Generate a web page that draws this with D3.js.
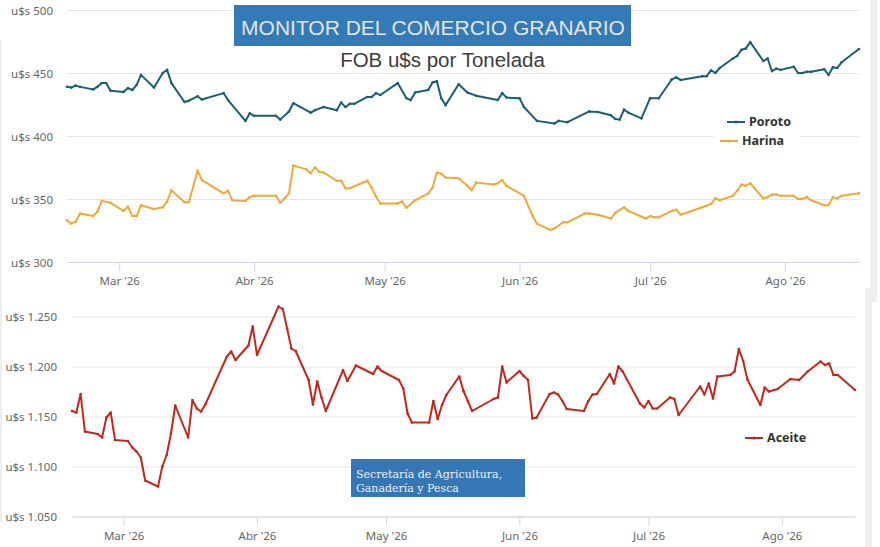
<!DOCTYPE html>
<html lang="es">
<head>
<meta charset="UTF-8">
<title>Monitor del Comercio Granario</title>
<script src="https://d3js.org/d3.v7.min.js"></script>
<style>
body { margin: 0; background: #fff; }
svg { display: block; }
.axis text { font-family: "Noto Sans", sans-serif; font-size: 11.5px; fill: #666; }
.grid line { stroke: #e6e6e6; }
.legend text { font-family: "Noto Sans", sans-serif; font-size: 12.5px; font-weight: 700; fill: #333; }
</style>
</head>
<body>
<svg id="chart" width="880" height="547"></svg>
<script>
const year = "2026"
const monthNames = ["Ene","Feb","Mar","Abr","May","Jun","Jul","Ago","Sep","Oct","Nov","Dic"]
const dateRange = ["02-17", "08-18"]

const topTicks = [300, 350, 400, 450, 500]
const bottomTicks = [1050, 1100, 1150, 1200, 1250]

const poroto = [
  ["02-17",439],["02-18",438.5],["02-19",440],["02-20",439],["02-23",437],["02-24",439],["02-25",442],["02-26",442],["02-27",436],
  ["03-02",435],["03-03",438],["03-04",436.5],["03-05",440.5],["03-06",448.5],["03-09",438.5],["03-11",450],["03-12",452.5],["03-13",442],["03-16",427],["03-17",428],["03-19",431.5],["03-20",429],["03-25",434],["03-26",428.5],["03-30",412],["03-31",418],
  ["04-01",416],["04-06",416],["04-07",413],["04-09",419.5],["04-10",426],["04-14",418.5],["04-15",420.5],["04-17",423],["04-20",420.5],["04-21",426.5],["04-22",423],["04-23",425.5],["04-24",425.5],["04-27",431],["04-28",431],["04-29",434],["04-30",432.5],
  ["05-04",442],["05-06",430],["05-07",428.5],["05-08",434.5],["05-11",436.5],["05-12",442.5],["05-13",443.5],["05-14",430],["05-15",424.5],["05-18",441],["05-20",434.5],["05-22",432],["05-27",428.5],["05-28",434],["05-29",430.5],
  ["06-01",430],["06-02",423],["06-05",412],["06-09",410],["06-10",412],["06-12",411],["06-17",419.5],["06-19",419],["06-22",416.5],["06-23",413.5],["06-24",413],["06-25",421],["06-26",418.5],["06-29",414],
  ["07-01",430],["07-03",430],["07-06",445],["07-07",446.5],["07-08",444.5],["07-13",447.5],["07-14",447.5],["07-15",452],["07-16",450],["07-17",454],["07-20",461.5],["07-21",463.5],["07-22",468.5],["07-23",469.5],["07-24",474.5],["07-27",459.5],["07-28",461.5],["07-29",451.5],["07-30",453.5],["07-31",452.5],
  ["08-03",455],["08-04",450],["08-05",450],["08-06",451],["08-07",451],["08-10",453],["08-11",448.5],["08-12",454.5],["08-13",454],["08-14",458.5],["08-18",469]
]

const harina = [
  ["02-17",333],["02-18",330.5],["02-19",332],["02-20",338.5],["02-23",336.5],["02-24",340],["02-25",348.5],["02-27",347],
  ["03-02",340.5],["03-03",344],["03-04",336.5],["03-05",336.5],["03-06",345],["03-09",342],["03-11",343.5],["03-12",348],["03-13",357],["03-16",347.5],["03-17",347.5],["03-19",372.5],["03-20",365],["03-25",354.5],["03-26",356.5],["03-27",349],["03-30",348.5],["03-31",351.5],
  ["04-01",352.5],["04-06",352.5],["04-07",347],["04-08",350.5],["04-09",354.5],["04-10",376.5],["04-13",373.5],["04-14",370.5],["04-15",375],["04-16",371.5],["04-17",371],["04-20",364.5],["04-21",364.5],["04-22",358.5],["04-23",358.5],["04-27",364.5],["04-28",359],["04-29",352],["04-30",346.5],
  ["05-04",346.5],["05-05",348],["05-06",343],["05-08",349],["05-11",354.5],["05-12",359],["05-13",371],["05-14",370],["05-15",367],["05-18",366.5],["05-20",360.5],["05-21",357],["05-22",363],["05-26",361.5],["05-27",362.5],["05-28",365],["05-29",360.5],
  ["06-02",352.5],["06-04",336.5],["06-05",330.5],["06-08",325.5],["06-09",326.5],["06-11",331.5],["06-12",331.5],["06-16",338.5],["06-17",338.5],["06-19",337.5],["06-22",334.5],["06-23",339],["06-25",343.5],["06-26",340.5],["06-30",334.5],
  ["07-01",336.5],["07-02",335.5],["07-03",335.5],["07-06",340.5],["07-07",341.5],["07-08",337.5],["07-13",343.5],["07-15",346],["07-16",350.5],["07-17",349],["07-20",352.5],["07-21",356.5],["07-22",361.5],["07-23",360.5],["07-24",362.5],["07-27",350.5],["07-28",351.5],["07-29",353.5],["07-30",353.5],["07-31",352.5],
  ["08-03",352.5],["08-04",350],["08-05",350],["08-06",351.5],["08-07",349],["08-10",345],["08-11",345],["08-12",351.5],["08-13",350.5],["08-14",352.5],["08-18",354.5]
]

const aceite = [
  ["02-17",1155.5],["02-18",1154],["02-19",1172.5],["02-20",1135],["02-23",1132.5],["02-24",1129],["02-25",1149],["02-26",1154],["02-27",1126.5],
  ["03-02",1125.5],["03-03",1119],["03-04",1115],["03-05",1109],["03-06",1086],["03-09",1080],["03-10",1100],["03-11",1111.5],["03-12",1133],["03-13",1161],["03-16",1129],["03-17",1166.5],["03-18",1158],["03-19",1155],["03-20",1162],["03-25",1210],["03-26",1215],["03-27",1206.5],["03-30",1221],["03-31",1240],
  ["04-01",1211.5],["04-06",1260],["04-07",1257.5],["04-08",1238],["04-09",1218],["04-10",1215.5],["04-13",1186.5],["04-14",1162],["04-15",1185],["04-16",1169],["04-17",1155.5],["04-21",1196.5],["04-22",1185.5],["04-24",1201],["04-28",1192.5],["04-29",1200],["04-30",1195.5],
  ["05-04",1186.5],["05-05",1178],["05-06",1153],["05-07",1144],["05-11",1144],["05-12",1165.5],["05-13",1147.5],["05-14",1161.5],["05-15",1171.5],["05-18",1190],["05-19",1175.5],["05-20",1165.5],["05-21",1155.5],["05-26",1167.5],["05-27",1169],["05-28",1200],["05-29",1184],
  ["06-01",1195.5],["06-02",1190.5],["06-03",1186.5],["06-04",1148],["06-05",1149],["06-08",1172.5],["06-09",1174],["06-10",1172],["06-11",1165.5],["06-12",1157.5],["06-16",1155.5],["06-17",1165.5],["06-18",1172],["06-19",1172.5],["06-22",1192.5],["06-23",1183],["06-24",1200],["06-25",1195],["06-29",1163],["06-30",1159],
  ["07-01",1165.5],["07-02",1158],["07-03",1158],["07-06",1169],["07-07",1167.5],["07-08",1151.5],["07-13",1180],["07-14",1172],["07-15",1183],["07-16",1168],["07-17",1190],["07-20",1191.5],["07-21",1195],["07-22",1217.5],["07-23",1205.5],["07-24",1187],["07-27",1161.5],["07-28",1179],["07-29",1175],["07-31",1177.5],
  ["08-03",1187.5],["08-05",1186.5],["08-07",1195],["08-10",1205],["08-11",1201.5],["08-12",1203],["08-13",1191.5],["08-14",1191.5],["08-18",1176.5]
]

const parse = d3.utcParse("%Y-%m-%d")
const toDate = s => parse(year + "-" + s)
const es = d3.formatLocale({decimal: ",", thousands: ".", grouping: [3], currency: ["u$s ", ""]})
const fmtY = v => "u$s " + es.format(",d")(v)
const fmtX = d => monthNames[d.getUTCMonth()] + " '" + String(d.getUTCFullYear()).slice(2)

const svg = d3.select("#chart")

// page strips around the two pictures
svg.append("rect").attr("x", 0).attr("y", 40).attr("width", 2).attr("height", 482).attr("fill", "#efefef")
svg.append("rect").attr("x", 870).attr("y", 0).attr("width", 7).attr("height", 290).attr("fill", "#efefef")
svg.append("rect").attr("x", 865).attr("y", 288).attr("width", 7).attr("height", 259).attr("fill", "#efefef")
svg.append("rect").attr("x", 865).attr("y", 288).attr("width", 12).attr("height", 14).attr("fill", "#efefef")

function panel(cfg) {
  const g = svg.append("g")
  const x = d3.scaleUtc().domain(dateRange.map(toDate)).range([cfg.left, cfg.right])
  const y = d3.scaleLinear().domain(d3.extent(cfg.ticks)).range([cfg.bottom, cfg.top])

  const gy = g.append("g").attr("class", "axis grid")
    .attr("transform", `translate(${cfg.left},0)`)
    .call(d3.axisLeft(y).tickValues(cfg.ticks).tickFormat(fmtY)
      .tickSize(-(cfg.right - cfg.left)).tickPadding(cfg.pad))
  gy.select(".domain").remove()
  gy.selectAll(".tick text").attr("dy", "0.35em")

  const gx = g.append("g").attr("class", "axis")
    .attr("transform", `translate(0,${cfg.bottom})`)
    .call(d3.axisBottom(x).ticks(d3.utcMonth.every(1)).tickFormat(fmtX).tickSize(9).tickSizeOuter(0).tickPadding(6))
  gx.select(".domain").attr("stroke", "#ccd6eb")
  gx.selectAll(".tick line").attr("stroke", "#ccd6eb")

  cfg.legendBox && g.append("rect").attr("x", cfg.legendBox[0]).attr("y", cfg.legendBox[1])
    .attr("width", cfg.legendBox[2]).attr("height", cfg.legendBox[3]).attr("fill", "#fff")

  const line = d3.line().x(d => x(toDate(d[0]))).y(d => y(d[1]))
  cfg.series.forEach(s => {
    g.append("path").datum(s.data)
      .attr("fill", "none").attr("stroke", s.color).attr("stroke-width", 2)
      .attr("stroke-linejoin", "round").attr("d", line)
    g.append("g").selectAll("circle").data(s.data).join("circle")
      .attr("cx", d => x(toDate(d[0]))).attr("cy", d => y(d[1]))
      .attr("r", 1.3).attr("fill", s.color)

    const lg = g.append("g").attr("class", "legend").attr("transform", `translate(${s.legend[0]},${s.legend[1]})`)
    lg.append("line").attr("x1", 0).attr("x2", 18).attr("stroke", s.color).attr("stroke-width", 2)
    lg.append("circle").attr("cx", 9).attr("r", 1.5).attr("fill", s.color)
    lg.append("text").attr("x", 22).attr("dy", "0.35em").text(s.name)
  })
}

panel({
  left: 67, right: 859, top: 10, bottom: 262, pad: 14, ticks: topTicks,
  legendBox: [714, 133, 86, 17],
  series: [
    {name: "Poroto", data: poroto, color: "#1b5e78", legend: [727, 122]},
    {name: "Harina", data: harina, color: "#f2a93b", legend: [720, 141]}
  ]
})

panel({
  left: 72, right: 855, top: 316.5, bottom: 516.5, pad: 15, ticks: bottomTicks,
  series: [
    {name: "Aceite", data: aceite, color: "#c3281d", legend: [745, 438]}
  ]
})

// title box
svg.append("rect").attr("x", 234).attr("y", 5).attr("width", 397).attr("height", 41).attr("fill", "#337ab7")
svg.append("text").attr("x", 433).attr("y", 34.5).attr("text-anchor", "middle")
  .attr("font-family", "Liberation Sans, Arial, sans-serif").attr("font-size", 21).attr("fill", "#e4e4e4")
  .text("MONITOR DEL COMERCIO GRANARIO")
svg.append("text").attr("x", 442.5).attr("y", 67).attr("text-anchor", "middle")
  .attr("font-family", "Liberation Sans, Arial, sans-serif").attr("font-size", 20.5).attr("fill", "#3d3d3d")
  .text("FOB u$s por Tonelada")

// source box
svg.append("rect").attr("x", 351).attr("y", 459).attr("width", 174).attr("height", 38).attr("fill", "#3577b5")
const src = svg.append("text").attr("font-family", "DejaVu Serif, serif")
  .attr("font-size", 11).attr("fill", "#eeeeee")
src.append("tspan").attr("x", 356).attr("y", 478).text("Secretaría de Agricultura,")
src.append("tspan").attr("x", 356).attr("y", 491.5).text("Ganadería y Pesca")
</script>
</body>
</html>
